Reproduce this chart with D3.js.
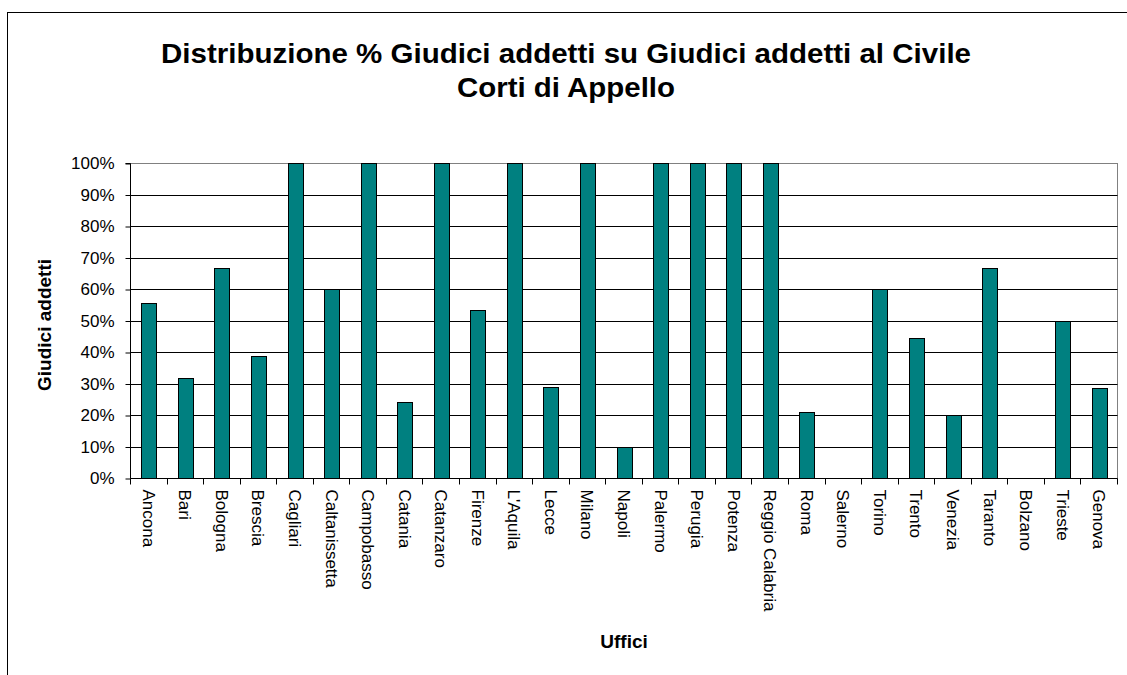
<!DOCTYPE html>
<html>
<head>
<meta charset="utf-8">
<script src="https://cdn.jsdelivr.net/npm/d3@7"></script>
<style>
    body { margin: 0; background: #fff; }
    svg { display: block; font-family: Arial, "Liberation Sans", sans-serif; }
</style>
</head>
<body>
<div class="canvas"></div>
<script>
//Data
const uffici = ['Ancona', 'Bari', 'Bologna', 'Brescia', 'Cagliari', 'Caltanissetta', 'Campobasso',
    'Catania', 'Catanzaro', 'Firenze', "L'Aquila", 'Lecce', 'Milano', 'Napoli', 'Palermo', 'Perugia',
    'Potenza', 'Reggio Calabria', 'Roma', 'Salerno', 'Torino', 'Trento', 'Venezia', 'Taranto',
    'Bolzano', 'Trieste', 'Genova'];
const percentuali = [0.556, 0.318, 0.667, 0.387, 1, 0.6, 1,
    0.241, 1, 0.532, 1, 0.288, 1, 0.1, 1, 1,
    1, 1, 0.208, 0, 0.6, 0.444, 0.2, 0.667,
    0, 0.5, 0.287];
const yTicks = [0, 0.1, 0.2, 0.3, 0.4, 0.5, 0.6, 0.7, 0.8, 0.9, 1];
const titleLines = ['Distribuzione % Giudici addetti su Giudici addetti al Civile', 'Corti di Appello'];

const data = uffici.map((u, i) => ({ ufficio: u, value: percentuali[i] }));

//SVG parameters
const
    width = 1127,
    height = 675,
    plotL = 130.5,
    plotR = 1117.5,
    plotT = 163.5,
    plotB = 478.5;

const svg = d3.select('.canvas')
    .append('svg')
    .attr('width', width)
    .attr('height', height);

//outer frame (runs past right and bottom edges)
svg.append('rect')
    .attr('x', 7.5).attr('y', 12.5)
    .attr('width', 1200).attr('height', 800)
    .attr('fill', '#fff')
    .attr('stroke', '#000')
    .attr('stroke-width', 1);

const xScale = d3.scaleBand()
    .domain(uffici)
    .range([plotL, plotR])
    .paddingInner(0)
    .paddingOuter(0);

const yScale = d3.scaleLinear()
    .domain([0, 1])
    .range([plotB, plotT]);

//plot area border (grey)
svg.append('rect')
    .attr('x', plotL).attr('y', plotT)
    .attr('width', plotR - plotL).attr('height', plotB - plotT)
    .attr('fill', 'none')
    .attr('stroke', '#808080');

//gridlines
svg.append('g')
    .selectAll('line')
    .data(yTicks.filter(d => d > 0 && d < 1))
    .join('line')
    .attr('x1', plotL).attr('x2', plotR)
    .attr('y1', d => Math.round(yScale(d) - 0.5) + 0.5)
    .attr('y2', d => Math.round(yScale(d) - 0.5) + 0.5)
    .attr('stroke', '#000')
    .attr('stroke-width', 1);

//bars
const barW = 15;
svg.append('g')
    .selectAll('rect')
    .data(data.filter(d => d.value > 0))
    .join('rect')
    .attr('x', d => Math.round(xScale(d.ufficio) + xScale.bandwidth() / 2 - barW / 2) + 0.5)
    .attr('y', d => Math.round(yScale(d.value) - 0.5) + 0.5)
    .attr('width', barW)
    .attr('height', d => plotB - (Math.round(yScale(d.value) - 0.5) + 0.5))
    .attr('fill', '#008080')
    .attr('stroke', '#000')
    .attr('stroke-width', 1);

//Y-Axis
const yAxis = d3.axisLeft(yScale)
    .tickValues(yTicks)
    .tickFormat(d3.format('.0%'))
    .tickSize(5)
    .tickPadding(11);
svg.append('g')
    .attr('transform', `translate(${plotL}, 0)`)
    .call(yAxis)
    .call(g => g.selectAll('text').attr('font-size', 17).attr('fill', '#000').attr('font-family', 'Arial, "Liberation Sans", sans-serif'))
    .call(g => g.selectAll('line,path').attr('stroke', '#000'))
    .call(g => g.select('.domain').attr('d', `M-5,${plotT}H0V${plotB}`));

//X-Axis (ticks on band boundaries)
const xAxisG = svg.append('g')
    .attr('transform', `translate(0, ${plotB})`);
xAxisG.append('line')
    .attr('x1', plotL).attr('x2', plotR)
    .attr('stroke', '#000');
xAxisG.selectAll('line.tick')
    .data(uffici.concat(['end']))
    .join('line')
    .attr('class', 'tick')
    .attr('x1', (d, i) => Math.round(plotL + i * xScale.bandwidth() - 0.5) + 0.5)
    .attr('x2', (d, i) => Math.round(plotL + i * xScale.bandwidth() - 0.5) + 0.5)
    .attr('y1', 0).attr('y2', 6)
    .attr('stroke', '#000');
xAxisG.selectAll('text')
    .data(uffici)
    .join('text')
    .attr('transform', d => `translate(${xScale(d) + xScale.bandwidth() / 2}, 11) rotate(90)`)
    .attr('dy', '0.35em')
    .attr('font-size', 17)
    .attr('fill', '#000')
    .text(d => d);

//Axis titles
svg.append('text')
    .attr('transform', 'translate(51, 325) rotate(-90)')
    .attr('text-anchor', 'middle')
    .attr('font-size', 19)
    .attr('font-weight', 'bold')
    .text('Giudici addetti');

svg.append('text')
    .attr('x', 624)
    .attr('y', 648)
    .attr('text-anchor', 'middle')
    .attr('font-size', 19)
    .attr('font-weight', 'bold')
    .text('Uffici');

//Title
const titleLen = [810, 218];
svg.append('g')
    .selectAll('text')
    .data(titleLines)
    .join('text')
    .attr('x', 566)
    .attr('y', (d, i) => 63 + i * 34)
    .attr('text-anchor', 'middle')
    .attr('font-size', 27)
    .attr('font-weight', 'bold')
    .attr('textLength', (d, i) => titleLen[i])
    .attr('lengthAdjust', 'spacingAndGlyphs')
    .text(d => d);
</script>
</body>
</html>
